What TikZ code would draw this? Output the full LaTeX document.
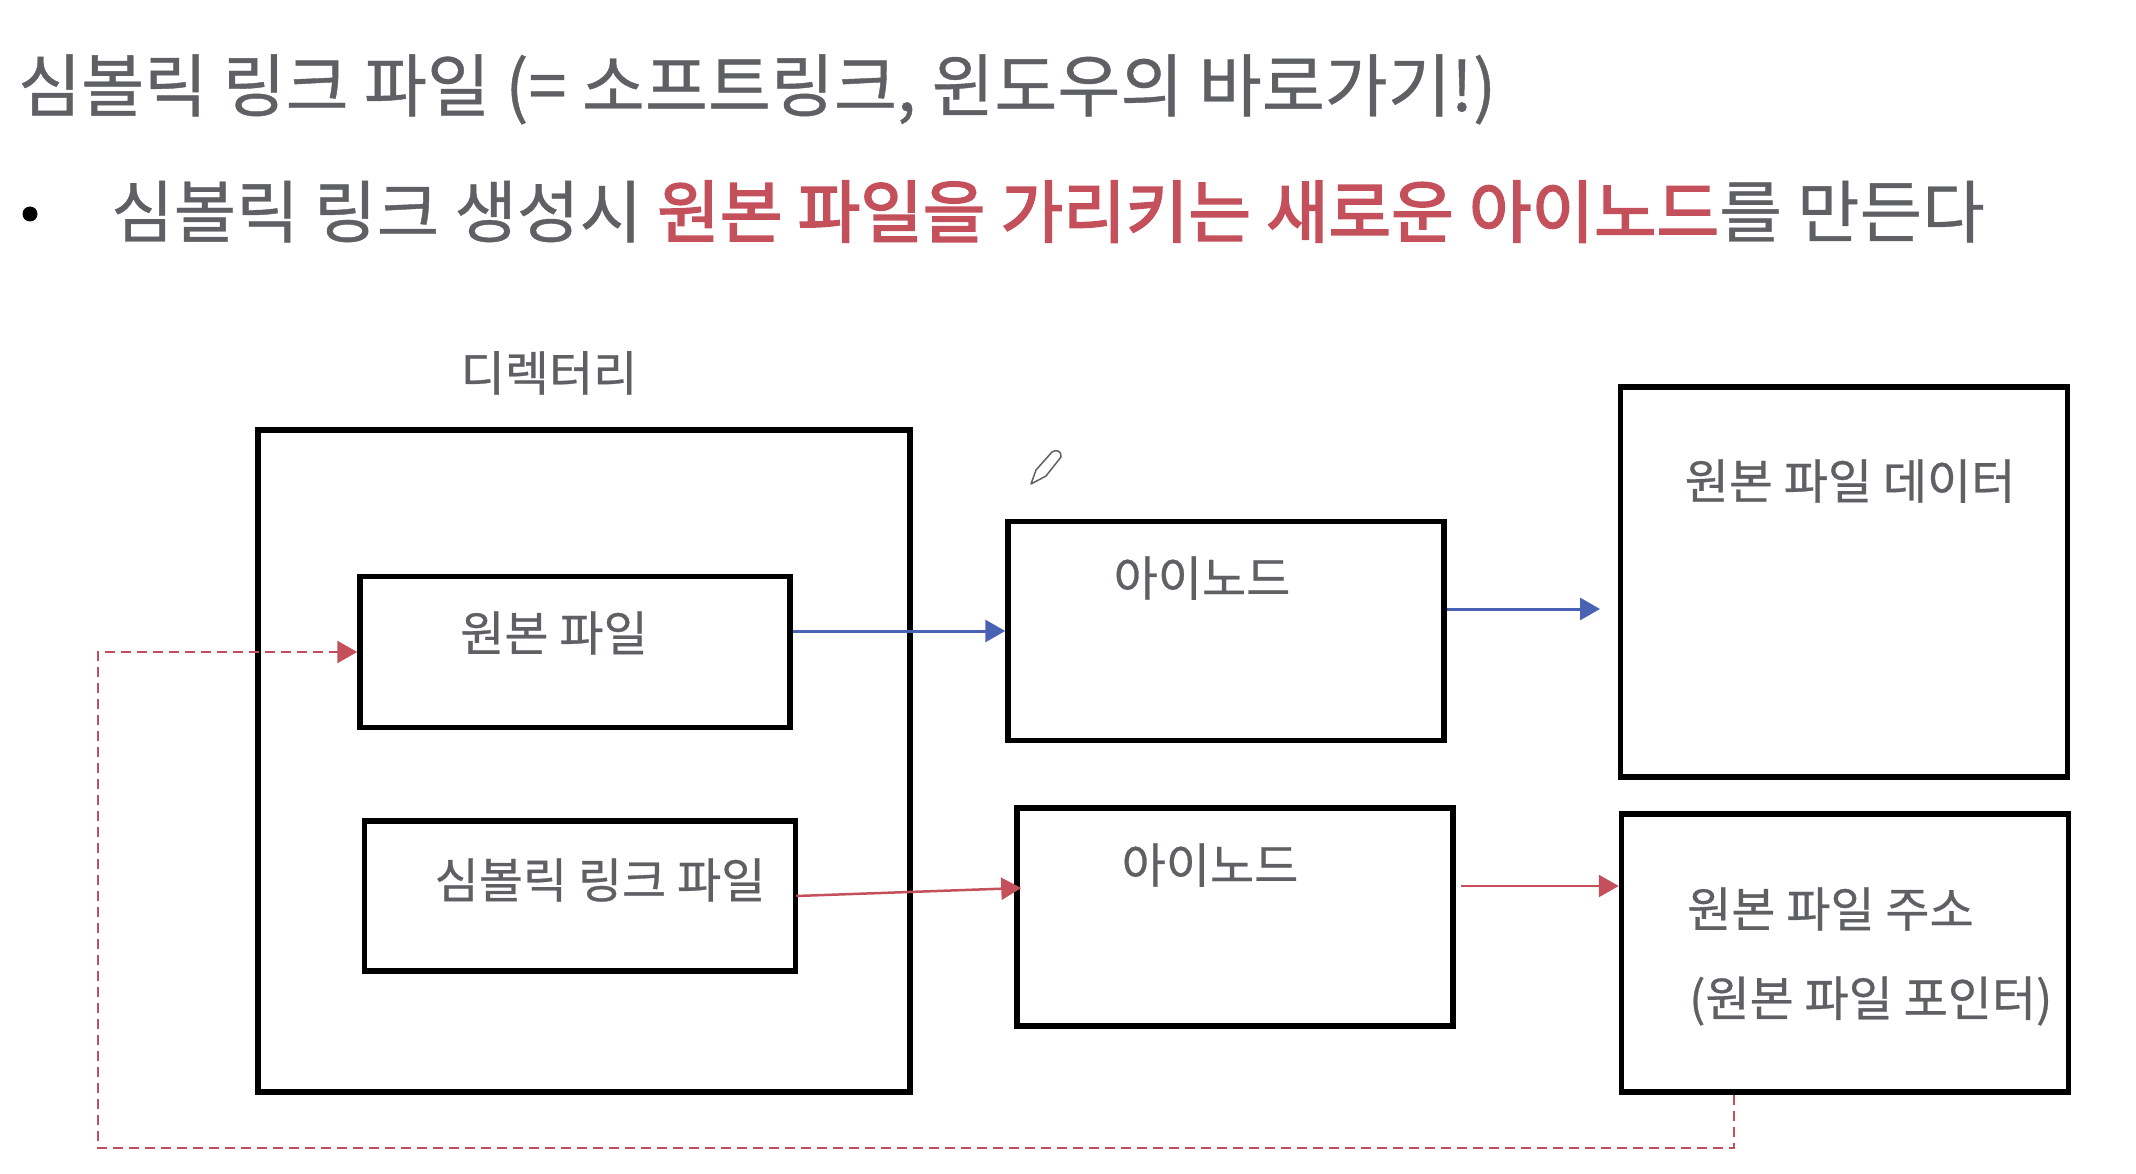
\documentclass[tikz,border=0pt]{standalone}
\usepackage{fontspec}
\setmainfont{Noto Sans CJK KR}
\newfontfamily\heavyfont[FakeBold=0.6]{Noto Sans CJK KR}
\newfontfamily\redfont[FakeBold=2.6]{Noto Sans CJK KR}
\usetikzlibrary{arrows.meta}
\usetikzlibrary{positioning}
\definecolor{textgray}{HTML}{5F6064}
\definecolor{linkred}{HTML}{C4505C}
\definecolor{lineblue}{HTML}{4A62B4}
\tikzset{
	box/.style={rectangle, draw=black, line width=5.5pt, inner sep=0pt},
	boxlabel/.style={text=textgray, inner sep=0pt, font=\heavyfont\fontsize{48}{48}\selectfont},
	toptext/.style={text=textgray, inner sep=0pt, anchor=base west, font=\heavyfont\fontsize{68}{68}\selectfont},
	bluearrow/.style={draw=lineblue, line width=3pt, -{Triangle[length=20pt,width=22pt]}},
	redarrow/.style={draw=linkred, line width=2.5pt, -{Triangle[length=20pt,width=22pt]}},
	reddash/.style={draw=linkred, line width=2.5pt, dash pattern=on 10pt off 6pt, -{Triangle[length=20pt,width=22pt]}}
}
\begin{document}
\begin{tikzpicture}[x=1pt,y=-1pt]
	\path[use as bounding box] (0,0) rectangle (2136,1174);

	% heading and bullet line
	\node[toptext, font=\heavyfont\fontsize{68.5}{68.5}\selectfont] (title) at (18,111) {심볼릭 링크 파일 (= 소프트링크, 윈도우의 바로가기!)};
	\node[circle, fill=black, inner sep=0pt, minimum size=15pt] (dot) at (30,214) {};
	\node[toptext] (bullet) at (111,237) {심볼릭 링크 생성시 \textcolor{linkred}{\redfont 원본 파일을 가리키는 새로운 아이노드}를 만든다};

	% boxes
	\node[box, minimum width=652pt, minimum height=662pt] (dirbox) at (584,761) {};
	\node[box, minimum width=430pt, minimum height=151pt] (srcbox) at (575,652) {};
	\node[box, minimum width=431pt, minimum height=150pt] (linkbox) at (580,896) {};
	\node[box, minimum width=436pt, minimum height=219pt] (inodea) at (1226,631) {};
	\node[box, minimum width=436pt, minimum height=218pt] (inodeb) at (1235,917) {};
	\node[box, minimum width=447pt, minimum height=390pt] (databox) at (1844,582) {};
	\node[box, minimum width=447pt, minimum height=278pt] (addrbox) at (1845,953) {};

	% labels
	\node[boxlabel] (dirlabel) at (549,373) {디렉터리};
	\node[boxlabel] (srclabel) at (554,633) {원본 파일};
	\node[boxlabel] (linklabel) at (600,880) {심볼릭 링크 파일};
	\node[boxlabel] (inodealabel) at (1202,578) {아이노드};
	\node[boxlabel] (inodeblabel) at (1210,865) {아이노드};
	\node[boxlabel] (datalabel) at (1850,481) {원본 파일 데이터};
	\node[boxlabel, anchor=west] (addrlabel) at (1687,909) {원본 파일 주소};
	\node[boxlabel, anchor=west] (ptrlabel) at (1689,1001) {(원본 파일 포인터)};

	% pencil
	\draw[textgray, line width=1.5pt, line join=round] (1031,484) -- (1036,470) -- (1052,452) .. controls (1056,449) and (1062,451) .. (1061,457) -- (1046,476) -- cycle;

	% arrows
	\draw[bluearrow] ([yshift=21pt]srcbox.east) -- (inodea.west);
	\coordinate (dataend) at (1600,609);
	\draw[bluearrow] (inodea.east |- dataend) -- (dataend);
	\draw[redarrow] ([xshift=-2pt]linkbox.east) -- ([xshift=7pt,yshift=29pt]inodeb.west);
	\coordinate (addrstart) at (1461,886);
	\draw[redarrow] (addrstart) -- (addrbox.west |- addrstart);
	\coordinate (bottomright) at (1734,1148);
	\coordinate (bottomleft) at (98,1148);
	\draw[reddash] (addrbox.south -| bottomright) -- (bottomright) -- (bottomleft) |- (srcbox.west);
\end{tikzpicture}
\end{document}
